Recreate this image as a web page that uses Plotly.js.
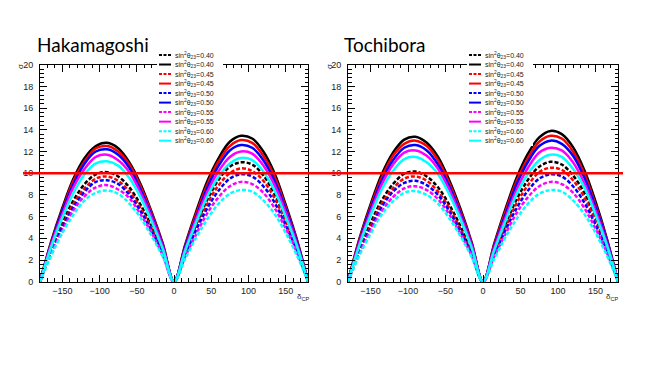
<!DOCTYPE html>
<html>
<head>
<meta charset="utf-8">
<script src="https://cdn.plot.ly/plotly-3.0.1.min.js"></script>
<style>
  body { margin: 0; background: #fff; }
  #chart { width: 664px; height: 374px; }
</style>
</head>
<body>
<div id="chart"></div>
<script>
// delta_CP grid (degrees)
const deltaCP = [-180, -165, -150, -135, -120, -105, -90, -75, -60, -45, -30, -15, 0,
  15, 30, 45, 60, 75, 90, 105, 120, 135, 150, 165, 180];

const sin2Labels = ["0.40", "0.40", "0.45", "0.45", "0.50", "0.50", "0.55", "0.55", "0.60", "0.60"];

// Hakamagoshi
const hDash040 = [0, 2.9, 5.4, 7.5, 9.0, 9.9, 10.1, 9.7, 8.7, 7.1, 5.1, 2.7, 0, 2.8, 5.3, 7.6, 9.4, 10.6, 11.0, 10.8, 9.8, 8.1, 5.8, 3.2, 0];
const hSolid040 = [0, 3.7, 6.8, 9.5, 11.4, 12.5, 12.8, 12.3, 11.0, 9.0, 6.4, 3.5, 0, 3.4, 6.5, 9.3, 11.4, 12.9, 13.45, 13.2, 12.0, 10.0, 7.1, 3.9, 0];
const hDash045 = [0, 2.8, 5.1, 7.2, 8.6, 9.5, 9.7, 9.3, 8.3, 6.8, 4.9, 2.6, 0, 2.6, 5.0, 7.2, 8.9, 10.0, 10.45, 10.2, 9.3, 7.7, 5.5, 3.0, 0];
const hSolid045 = [0, 3.6, 6.6, 9.3, 11.1, 12.3, 12.5, 12.0, 10.8, 8.8, 6.3, 3.4, 0, 3.3, 6.3, 9.0, 11.1, 12.5, 13.05, 12.8, 11.6, 9.7, 6.9, 3.8, 0];
const hDash050 = [0, 2.7, 5.0, 6.9, 8.3, 9.2, 9.35, 9.0, 8.0, 6.5, 4.7, 2.5, 0, 2.5, 4.8, 6.8, 8.4, 9.5, 9.9, 9.7, 8.8, 7.3, 5.2, 2.9, 0];
const hSolid050 = [0, 3.5, 6.5, 9.0, 10.9, 12.0, 12.2, 11.7, 10.5, 8.5, 6.1, 3.3, 0, 3.2, 6.0, 8.7, 10.7, 12.1, 12.6, 12.35, 11.2, 9.3, 6.7, 3.7, 0];
const hDash055 = [0, 2.6, 4.7, 6.6, 7.9, 8.7, 8.9, 8.5, 7.7, 6.2, 4.5, 2.4, 0, 2.3, 4.4, 6.35, 7.8, 8.8, 9.2, 9.0, 8.2, 6.8, 4.9, 2.7, 0];
const hSolid055 = [0, 3.4, 6.2, 8.7, 10.4, 11.5, 11.7, 11.2, 10.1, 8.2, 5.9, 3.2, 0, 3.0, 5.8, 8.3, 10.2, 11.5, 12.0, 11.8, 10.7, 8.9, 6.4, 3.5, 0];
const hDash060 = [0, 2.4, 4.5, 6.2, 7.5, 8.2, 8.4, 8.1, 7.2, 5.9, 4.2, 2.3, 0, 2.1, 4.1, 5.8, 7.2, 8.1, 8.45, 8.3, 7.5, 6.25, 4.5, 2.45, 0];
const hSolid060 = [0, 3.2, 5.9, 8.2, 9.9, 10.9, 11.1, 10.7, 9.55, 7.8, 5.55, 3.0, 0, 2.85, 5.5, 7.9, 9.7, 10.9, 11.4, 11.2, 10.15, 8.4, 6.0, 3.3, 0];

// Tochibora
const tDash040 = [0, 2.9, 5.4, 7.5, 9.0, 9.95, 10.15, 9.7, 8.7, 7.1, 5.1, 2.7, 0, 2.8, 5.3, 7.6, 9.4, 10.6, 11.05, 10.8, 9.8, 8.2, 5.9, 3.2, 0];
const tSolid040 = [0, 3.9, 7.1, 9.9, 11.9, 13.1, 13.35, 12.8, 11.5, 9.35, 6.7, 3.6, 0, 3.5, 6.7, 9.6, 11.8, 13.3, 13.9, 13.6, 12.4, 10.3, 7.4, 4.0, 0];
const tDash045 = [0, 2.8, 5.1, 7.2, 8.6, 9.5, 9.7, 9.3, 8.3, 6.8, 4.85, 2.6, 0, 2.6, 5.0, 7.25, 8.9, 10.1, 10.5, 10.3, 9.35, 7.8, 5.6, 3.05, 0];
const tSolid045 = [0, 3.8, 6.9, 9.6, 11.6, 12.7, 13.0, 12.5, 11.2, 9.1, 6.5, 3.5, 0, 3.4, 6.5, 9.3, 11.4, 12.9, 13.45, 13.2, 12.0, 9.95, 7.1, 3.9, 0];
const tDash050 = [0, 2.7, 4.9, 6.9, 8.3, 9.1, 9.3, 8.9, 8.0, 6.5, 4.65, 2.5, 0, 2.5, 4.75, 6.8, 8.4, 9.5, 9.9, 9.7, 8.8, 7.3, 5.25, 2.9, 0];
const tSolid050 = [0, 3.65, 6.7, 9.3, 11.2, 12.35, 12.6, 12.1, 10.8, 8.8, 6.3, 3.4, 0, 3.25, 6.2, 9.0, 11.05, 12.5, 13.0, 12.7, 11.6, 9.6, 6.9, 3.8, 0];
const tDash055 = [0, 2.55, 4.7, 6.5, 7.8, 8.6, 8.8, 8.45, 7.6, 6.2, 4.4, 2.4, 0, 2.3, 4.4, 6.35, 7.8, 8.8, 9.2, 9.0, 8.2, 6.8, 4.9, 2.7, 0];
const tSolid055 = [0, 3.5, 6.4, 8.95, 10.8, 11.9, 12.1, 11.6, 10.4, 8.5, 6.05, 3.3, 0, 3.1, 5.9, 8.5, 10.5, 11.9, 12.35, 12.1, 11.0, 9.1, 6.55, 3.6, 0];
const tDash060 = [0, 2.4, 4.4, 6.2, 7.4, 8.2, 8.35, 8.0, 7.2, 5.85, 4.2, 2.25, 0, 2.1, 4.1, 5.8, 7.2, 8.1, 8.45, 8.3, 7.5, 6.25, 4.5, 2.45, 0];
const tSolid060 = [0, 3.3, 6.1, 8.5, 10.2, 11.3, 11.5, 11.0, 9.9, 8.05, 5.75, 3.1, 0, 2.9, 5.6, 8.1, 9.95, 11.2, 11.7, 11.5, 10.4, 8.7, 6.2, 3.4, 0];

const hakaSeries = [hDash040, hSolid040, hDash045, hSolid045, hDash050, hSolid050, hDash055, hSolid055, hDash060, hSolid060];
const tochiSeries = [tDash040, tSolid040, tDash045, tSolid045, tDash050, tSolid050, tDash055, tSolid055, tDash060, tSolid060];

const colors = ["#000000", "#000000", "#ff0000", "#ff0000", "#0000ff", "#0000ff", "#ff00ff", "#ff00ff", "#00ffff", "#00ffff"];
const dashStyle = (i) => (i % 2 === 0 ? "4px,2px" : "solid");

const W = 664, H = 374;
const px = (x) => x / W;
const py = (y) => 1 - y / H;

function makeTraces(series, xa, ya) {
  return series.map((vals, i) => ({
    x: deltaCP,
    y: vals,
    xaxis: xa,
    yaxis: ya,
    type: "scatter",
    mode: "lines",
    line: { color: colors[i], width: 2.5, dash: dashStyle(i), shape: "spline" },
    showlegend: false,
    hoverinfo: "skip",
  }));
}

const tickFont = { family: "Liberation Sans, Arial, sans-serif", size: 9, color: "#222" };

function xAxis(domain, anchor) {
  return {
    domain: domain,
    anchor: anchor,
    range: [-180, 180],
    tickvals: [-150, -100, -50, 0, 50, 100, 150],
    ticks: "inside",
    ticklen: 7,
    tickcolor: "#000",
    mirror: "ticks",
    showline: true,
    linecolor: "#000",
    linewidth: 1,
    showgrid: false,
    zeroline: false,
    tickfont: tickFont,
    minor: { dtick: 10, ticks: "inside", ticklen: 3.5, tickcolor: "#000", showgrid: false },
    automargin: false,
    fixedrange: true,
  };
}

function yAxis(anchor) {
  return {
    domain: [py(281.7), py(64.7)],
    anchor: anchor,
    range: [0, 20],
    dtick: 2,
    ticks: "inside",
    ticklen: 7,
    tickcolor: "#000",
    mirror: "ticks",
    showline: true,
    linecolor: "#000",
    linewidth: 1,
    showgrid: false,
    zeroline: false,
    tickfont: tickFont,
    ticklabelstandoff: 4,
    minor: { dtick: 0.4, ticks: "inside", ticklen: 3.5, tickcolor: "#000", showgrid: false },
    automargin: false,
    fixedrange: true,
  };
}

const data = makeTraces(hakaSeries, "x", "y").concat(makeTraces(tochiSeries, "x2", "y2"));

const shapes = [];
const annotations = [];

// titles and axis labels for each pad
const pads = [
  { name: "Hakamagoshi", titleX: 35, sigmaX: 20, deltaX: 303, legX: 157 },
  { name: "Tochibora", titleX: 342, sigmaX: 329, deltaX: 612, legX: 467 },
];

pads.forEach((p) => {
  annotations.push({
    text: p.name, xref: "paper", yref: "paper", x: px(p.titleX), y: py(44),
    xanchor: "left", yanchor: "middle", showarrow: false,
    font: { family: "Lato, Open Sans, sans-serif", size: 19, color: "#000" },
  });
  annotations.push({
    text: "σ", xref: "paper", yref: "paper", x: px(p.sigmaX), y: py(67),
    xanchor: "center", yanchor: "middle", showarrow: false, textangle: -90,
    font: { family: "Liberation Sans, Arial, sans-serif", size: 8, color: "#222" },
  });
  annotations.push({
    text: "δ<sub>CP</sub>", xref: "paper", yref: "paper", x: px(p.deltaX), y: py(297),
    xanchor: "center", yanchor: "middle", showarrow: false,
    font: { family: "Liberation Sans, Arial, sans-serif", size: 8, color: "#222" },
  });

  // legend box
  shapes.push({
    type: "rect", xref: "paper", yref: "paper", layer: "above",
    x0: px(p.legX), x1: px(p.legX + 66), y0: py(146), y1: py(50),
    fillcolor: "#fff", line: { width: 0 },
  });
  sin2Labels.forEach((lab, i) => {
    const yy = 55 + 9.52 * i;
    shapes.push({
      type: "line", xref: "paper", yref: "paper", layer: "above",
      x0: px(p.legX + 2), x1: px(p.legX + 14), y0: py(yy), y1: py(yy),
      line: { color: colors[i], width: 2, dash: i % 2 === 0 ? "3px,1.5px" : "solid" },
    });
    annotations.push({
      text: "sin<sup>2</sup>θ<sub>23</sub>=" + lab, xref: "paper", yref: "paper",
      x: px(p.legX + 16), y: py(yy), xanchor: "left", yanchor: "middle", showarrow: false,
      font: { family: "Liberation Sans, Arial, sans-serif", size: 7, color: "#222" },
    });
  });
});

// 10 sigma reference line
shapes.push({
  type: "line", xref: "paper", yref: "y", layer: "above",
  x0: px(23), x1: px(623), y0: 10, y1: 10,
  line: { color: "#ff0000", width: 2.5 },
});

const layout = {
  width: W,
  height: H,
  margin: { l: 0, r: 0, t: 0, b: 0 },
  paper_bgcolor: "#fff",
  plot_bgcolor: "#fff",
  showlegend: false,
  xaxis: xAxis([px(40), px(308)], "y"),
  yaxis: yAxis("x"),
  xaxis2: xAxis([px(348), px(618)], "y2"),
  yaxis2: yAxis("x2"),
  shapes: shapes,
  annotations: annotations,
};

Plotly.newPlot("chart", data, layout, { staticPlot: true, displayModeBar: false });
</script>
</body>
</html>
